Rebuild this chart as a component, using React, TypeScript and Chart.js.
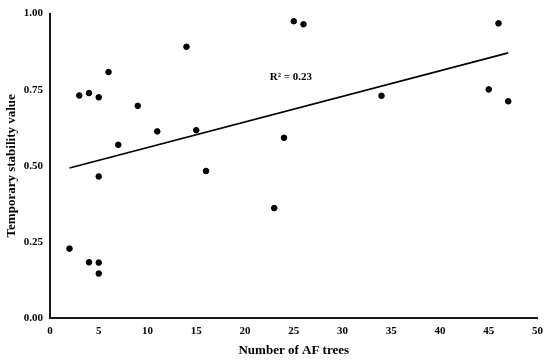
import React, { useEffect, useRef } from "react";
import { Chart, registerables } from "chart.js";

Chart.register(...registerables);

const treeCounts = [2, 3, 4, 5, 6, 5, 4, 5, 5, 7, 9, 11, 14, 15, 16, 23, 24, 25, 26, 34, 45, 46, 47];
const stabilityValues = [0.228, 0.731, 0.739, 0.725, 0.808, 0.465, 0.183, 0.182, 0.146, 0.569, 0.697, 0.613, 0.891, 0.617, 0.483, 0.361, 0.592, 0.975, 0.965, 0.73, 0.751, 0.968, 0.712];
const trendX = [2, 47];
const trendY = [0.493, 0.871];
const r2Text = "R\u00B2 = 0.23";
const r2At = { x: 24.7, y: 0.792 };
const xTitle = "Number of AF trees";
const yTitle = "Temporary stability value";

const FONT = "'Liberation Serif', 'Times New Roman', serif";

const r2Plugin = {
  id: "r2label",
  afterDatasetsDraw(chart: any) {
    const { ctx, scales } = chart;
    const px = scales.x.getPixelForValue(r2At.x);
    const py = scales.y.getPixelForValue(r2At.y);
    ctx.save();
    ctx.font = `bold 11px ${FONT}`;
    ctx.fillStyle = "#000";
    ctx.textAlign = "center";
    ctx.textBaseline = "middle";
    ctx.fillText(r2Text, px, py);
    ctx.restore();
  },
};

export default function App() {
  const ref = useRef<HTMLCanvasElement>(null);
  useEffect(() => {
    if (!ref.current) return;
    const chart = new Chart(ref.current, {
      type: "scatter",
      data: {
        datasets: [
          {
            type: "scatter",
            data: treeCounts.map((x, i) => ({ x, y: stabilityValues[i] })),
            backgroundColor: "#000",
            borderColor: "#000",
            pointRadius: 2.8,
            pointHoverRadius: 2.8,
          },
          {
            type: "line",
            data: trendX.map((x, i) => ({ x, y: trendY[i] })),
            borderColor: "#000",
            borderWidth: 1.6,
            pointRadius: 0,
            fill: false,
          } as any,
        ],
      },
      options: {
        animation: false,
        responsive: false,
        maintainAspectRatio: false,
        layout: { padding: { top: 10, right: 11, left: 0, bottom: 0 } },
        plugins: { legend: { display: false }, tooltip: { enabled: false } },
        scales: {
          x: {
            type: "linear",
            min: 0,
            max: 50,
            grid: { display: false, drawTicks: false },
            border: { display: true, color: "#1a1a1a", width: 2 },
            ticks: {
              stepSize: 5,
              padding: 7,
              color: "#000",
              font: { family: FONT, size: 11, weight: "bold" },
            },
            title: {
              display: true,
              text: xTitle,
              color: "#000",
              font: { family: FONT, size: 13, weight: "bold" },
              padding: { top: 0, bottom: 6 },
            },
            afterFit(scale: any) {
              scale.height = 46;
            },
          },
          y: {
            type: "linear",
            min: 0,
            max: 1,
            grid: { display: false, drawTicks: false },
            border: { display: true, color: "#1a1a1a", width: 2 },
            ticks: {
              stepSize: 0.25,
              padding: 7,
              color: "#000",
              font: { family: FONT, size: 11, weight: "bold" },
              callback: (v: any) => Number(v).toFixed(2),
            },
            title: {
              display: true,
              text: yTitle,
              color: "#000",
              font: { family: FONT, size: 13, weight: "bold" },
              padding: { top: 4, bottom: 0 },
            },
            afterFit(scale: any) {
              scale.width = 50;
            },
          },
        },
      },
      plugins: [r2Plugin],
    });
    return () => chart.destroy();
  }, []);
  return (
    <div style={{ position: "absolute", left: 0, top: 0, width: 550, height: 364, background: "#fff" }}>
      <canvas ref={ref} width={550} height={364} />
    </div>
  );
}
